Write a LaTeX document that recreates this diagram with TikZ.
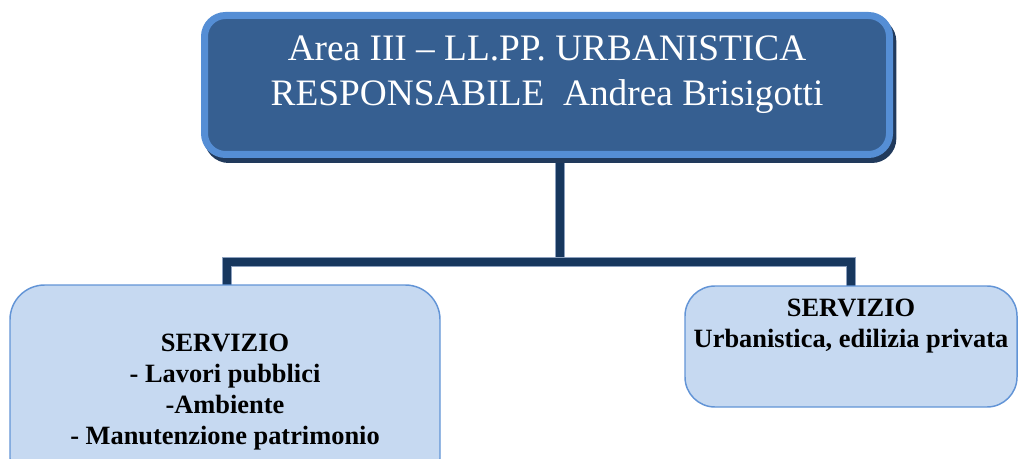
\documentclass[tikz,border=0pt]{standalone}
\usepackage{fontspec}
\setmainfont{Liberation Serif}
\usetikzlibrary{shadows,backgrounds}
\definecolor{topfill}{RGB}{54,95,145}
\definecolor{topborder}{RGB}{85,142,213}
\definecolor{shadowc}{RGB}{33,58,92}
\definecolor{connc}{RGB}{23,55,94}
\definecolor{connedge}{RGB}{140,160,190}
\definecolor{boxfill}{RGB}{198,217,241}
\definecolor{boxborder}{RGB}{98,148,214}
\tikzset{
  headbox/.style={draw=topborder, line width=5.25pt, fill=topfill,
    rounded corners=15.75pt, inner sep=0pt, outer sep=0pt,
    drop shadow={shadow xshift=2.5pt, shadow yshift=-3.75pt, opacity=1,
      fill=shadowc, draw=shadowc, line width=5.25pt}},
  headtext/.style={text=white, align=center, inner sep=0pt,
    font=\fontsize{28}{33.75}\selectfont},
  servbox/.style={draw=boxborder, line width=1.1pt, fill=boxfill,
    inner sep=0pt, outer sep=0pt},
  servtext/.style={align=center, inner sep=0pt,
    font=\fontsize{19.8}{23.25}\selectfont\bfseries},
  conn/.style={draw=connc, line width=6pt, line join=miter,
    preaction={draw=connedge, line width=7pt}}
}
\begin{document}
\begin{tikzpicture}[x=0.75pt,y=-0.75pt]
\useasboundingbox (0,0) rectangle (1019,459);

\node[headbox, minimum width=513.75pt, minimum height=104.25pt] (topbox) at (547,85) {};
\node[headtext] (toptext) at (547,75) {Area III -- LL.PP. URBANISTICA\\RESPONSABILE\ \ Andrea Brisigotti};

\node[servbox, rounded corners=26pt, minimum width=322.5pt, minimum height=156pt] (leftbox) at (225,389) {};
\node[servtext] (lefttext) at (225,392) {SERVIZIO\\- Lavori pubblici\\-Ambiente\\- Manutenzione patrimonio};

\node[servbox, rounded corners=22.5pt, minimum width=249pt, minimum height=90.75pt] (rightbox) at (851,346.5) {};
\node[servtext] (righttext) at (851,326.5) {SERVIZIO\\Urbanistica, edilizia privata};

\coordinate (hub) at (560,262);
\coordinate (lj) at (227,262);
\coordinate (rj) at (851,262);

\begin{scope}[on background layer]
\draw[conn] (hub |- topbox.south) -- ([yshift=-3pt]hub);
\draw[conn] (lj |- leftbox.north) -- (lj) -- (rj) -- (rj |- rightbox.north);
\end{scope}
\end{tikzpicture}
\end{document}
